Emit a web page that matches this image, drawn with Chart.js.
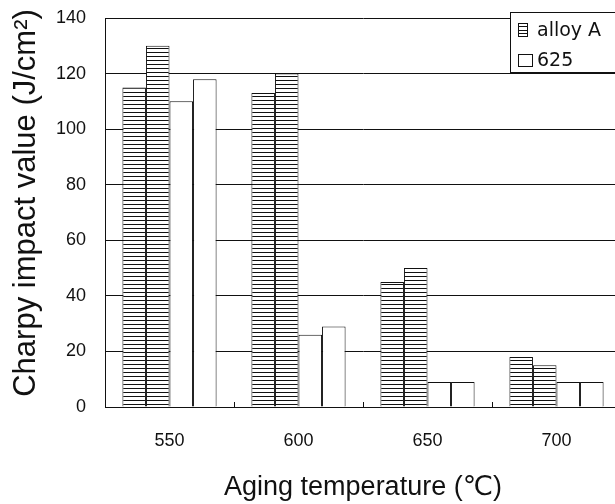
<!DOCTYPE html>
<html>
<head>
<meta charset="utf-8">
<script src="https://cdn.jsdelivr.net/npm/chart.js@4/dist/chart.umd.min.js"></script>
<style>
  html, body { margin: 0; padding: 0; background: #fff; overflow: hidden; }
  #wrap { width: 621px; height: 504px; }
</style>
</head>
<body>
<div id="wrap"><canvas id="chart" width="621" height="504"></canvas></div>
<script>
// aging temperatures (deg C)
const temps = ['550', '600', '650', '700'];
// Charpy impact values, J/cm2 - two specimens per alloy
const alloyA_1 = [115, 113, 45, 18];
const alloyA_2 = [130, 120, 50, 15];
const in625_1 = [110, 26, 9, 9];
const in625_2 = [118, 29, 9, 9];
const yTicks = [0, 20, 40, 60, 80, 100, 120, 140];
const legendNames = ['alloy A', '625'];
const yTitle = 'Charpy impact value (J/cm\u00b2)';

const FONT = "'Liberation Sans', Arial, 'DejaVu Sans', sans-serif";
const WIDE = "'DejaVu Sans', sans-serif";

function makeHatch() {
  const p = document.createElement('canvas');
  p.width = 8;
  p.height = 4;
  const g = p.getContext('2d');
  g.fillStyle = '#fff';
  g.fillRect(0, 0, 8, 4);
  g.fillStyle = '#111';
  g.fillRect(0, 0, 8, 1);
  return g.createPattern(p, 'repeat');
}

const ctx = document.getElementById('chart').getContext('2d');
const hatch = makeHatch();

function bar(label, data, fill) {
  return {
    label: label,
    data: data,
    backgroundColor: fill,
    borderColor: '#111',
    borderWidth: 1,
    borderSkipped: 'bottom',
    barPercentage: 1.0,
    categoryPercentage: 0.73
  };
}

// legend sits inside the plot, top right, like the original
const boxLegend = {
  id: 'boxLegend',
  afterDraw(chart) {
    const c = chart.ctx;
    const x = 510, y = 12, w = 130, h = 60;
    c.save();
    c.fillStyle = '#fff';
    c.fillRect(x, y, w, h);
    c.strokeStyle = '#111';
    c.lineWidth = 1;
    c.strokeRect(x + 0.5, y + 0.5, w, h);
    c.font = '19px ' + WIDE;
    c.textBaseline = 'middle';
    legendNames.forEach(function (name, i) {
      const cy = 30 + i * 30;
      if (i === 0) {
        // striped glyph
        c.fillStyle = '#fff';
        c.fillRect(518, cy - 7, 9, 13);
        c.strokeRect(518.5, cy - 6.5, 9, 13);
        for (let k = 1; k < 4; k++) {
          c.fillStyle = '#111';
          c.fillRect(518, Math.round(cy - 7 + k * 3.3), 10, 1);
        }
      } else {
        c.fillStyle = '#fff';
        c.fillRect(518, cy - 6, 14, 12);
        c.strokeRect(518.5, cy - 5.5, 14, 12);
      }
      c.fillStyle = '#111';
      c.fillText(name, 537, cy + 1);
    });
    c.restore();
  }
};

// y title drawn by hand so it can sit a little above the plot centre
const sideTitle = {
  id: 'sideTitle',
  afterDraw(chart) {
    const c = chart.ctx;
    c.save();
    c.translate(35, 203);
    c.rotate(-Math.PI / 2);
    c.font = '31px ' + FONT;
    c.fillStyle = '#111';
    c.textAlign = 'center';
    c.textBaseline = 'alphabetic';
    c.fillText(yTitle, 0, 0);
    c.restore();
  }
};

new Chart(ctx, {
  type: 'bar',
  data: {
    labels: temps,
    datasets: [
      bar('alloy A', alloyA_1, hatch),
      bar('alloy A', alloyA_2, hatch),
      bar('625', in625_1, '#fff'),
      bar('625', in625_2, '#fff')
    ]
  },
  options: {
    responsive: false,
    animation: false,
    layout: { padding: { top: 18, right: 0, left: 0, bottom: 0 } },
    plugins: {
      legend: { display: false },
      tooltip: { enabled: false }
    },
    scales: {
      x: {
        grid: {
          display: true,
          offset: true,
          drawOnChartArea: false,
          drawTicks: true,
          tickLength: -5,
          color: '#111'
        },
        border: { display: true, color: '#111', width: 1 },
        ticks: { color: '#111', font: { family: FONT, size: 18 }, padding: 28 },
        title: {
          display: true,
          text: 'Aging temperature (\u2103)',
          color: '#111',
          font: { family: FONT, size: 27 },
          padding: { top: 16, bottom: 0 }
        },
        afterFit(scale) { scale.height = 97; }
      },
      y: {
        min: 0,
        max: 140,
        afterBuildTicks(scale) { scale.ticks = yTicks.map(v => ({ value: v })); },
        grid: { color: '#111', lineWidth: 1, drawTicks: false },
        border: { display: true, color: '#111', width: 1 },
        ticks: { color: '#111', font: { family: FONT, size: 18 }, padding: 19 },
        afterFit(scale) {
          scale.width = 105;
          scale.paddingTop = 0;
          scale.paddingBottom = 0;
        }
      }
    }
  },
  plugins: [boxLegend, sideTitle]
});
</script>
</body>
</html>
